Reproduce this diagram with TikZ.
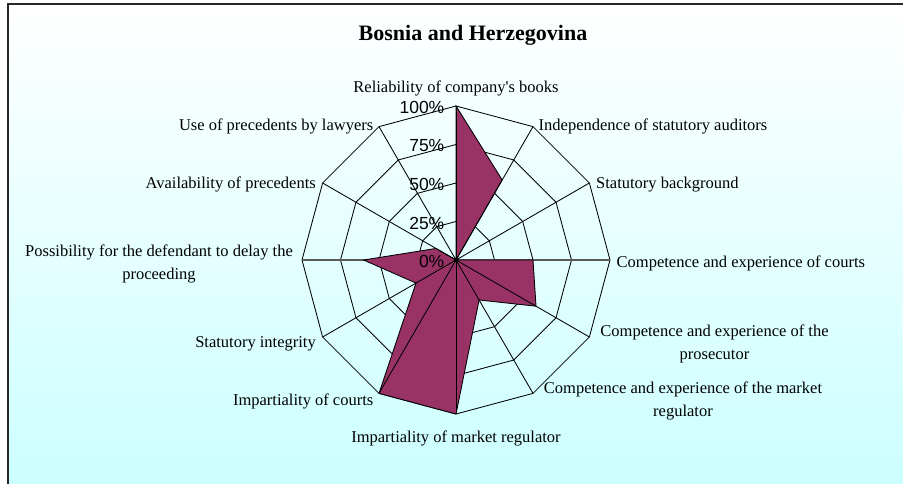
\documentclass[tikz,border=0pt]{standalone}
\usepackage{fontspec}
\setmainfont{Liberation Serif}
\newfontfamily\ticksans{Liberation Sans}
\definecolor{plum}{RGB}{153,51,102}
\definecolor{bgcyan}{RGB}{204,255,255}
\begin{document}
\begin{tikzpicture}[x=1pt,y=-1pt,
  gridline/.style={draw=black, line width=0.85pt},
  axisline/.style={draw=black!65, line width=1.8pt},
  series/.style={draw=black, line width=0.85pt, fill=plum, line join=miter},
  catlabel/.style={inner sep=0pt, font=\fontsize{16.5}{23}\selectfont, align=center},
  ticklabel/.style={inner sep=0pt, anchor=east, font=\ticksans\fontsize{17.5}{20}\selectfont},
  titlelabel/.style={inner sep=0pt, anchor=base, font=\bfseries\fontsize{22}{26}\selectfont}]

% canvas, chart area with gradient and its frame
\useasboundingbox (0,0) rectangle (903,484);
\fill[white] (0,0) rectangle (903,484);
\shade[top color=white, bottom color=bgcyan] (8,4) rectangle (903,484);
\draw[line width=1.6pt, black!85] (8,484) -- (8,4) -- (903,4);

% radar geometry: centre (456,260), full scale radius 154
\coordinate (C) at (456,260);
\foreach \i in {0,...,11}
  \coordinate (v\i) at ({456+154*cos(90-30*\i)},{260-154*sin(90-30*\i)});

% value rings at 25 %, 50 %, 75 %, 100 %
\foreach \f in {0.25,0.5,0.75,1}
  \draw[gridline] plot[samples at={90,60,...,-240}] ({456+154*\f*cos(\x)},{260-154*\f*sin(\x)}) -- cycle;

% horizontal axis line
\draw[axisline] (v9) -- (v3);

% data series
\foreach \v [count=\i from 0] in {1,0.6,0,0.5,0.6,0.3,1,1,0.3,0.6,0.15,0}
  \coordinate (p\i) at ({456+154*\v*cos(90-30*\i)},{260-154*\v*sin(90-30*\i)});
\draw[series] (p0) -- (p1) -- (p2) -- (p3) -- (p4) -- (p5) -- (p6) -- (p7)
  -- (p8) -- (p9) -- (p10) -- (p11) -- cycle;

% category spokes
\foreach \i in {0,1,2,4,5,6,7,8,10,11}
  \draw[gridline] (C) -- (v\i);
\fill[black] (C) circle (2.3);

% value axis labels
\node[ticklabel] (t100) at (444.5,107.5) {100\%};
\node[ticklabel] (t75)  at (444.5,146)   {75\%};
\node[ticklabel] (t50)  at (444.5,184.5) {50\%};
\node[ticklabel] (t25)  at (444.5,223)   {25\%};
\node[ticklabel] (t0)   at (444.5,261.5) {0\%};

% title
\node[titlelabel] (title) at (473,41) {Bosnia and Herzegovina};

% category labels
\node[catlabel, anchor=base]      (c0)  at (456,93)    {Reliability of company\textquotesingle s books};
\node[catlabel, anchor=base west] (c1)  at (538.5,131) {Independence of statutory auditors};
\node[catlabel, anchor=base west] (c2)  at (596,188.5) {Statutory background};
\node[catlabel, anchor=base west] (c3)  at (616.5,267.5) {Competence and experience of courts};
\node[catlabel]                   (c4)  at (714.5,343.5) {Competence and experience of the\\prosecutor};
\node[catlabel]                   (c5)  at (683,401) {Competence and experience of the market\\regulator};
\node[catlabel, anchor=base]      (c6)  at (456,442.5) {Impartiality of market regulator};
\node[catlabel, anchor=base east] (c7)  at (373.5,405) {Impartiality of courts};
\node[catlabel, anchor=base east] (c8)  at (316,347.5) {Statutory integrity};
\node[catlabel]                   (c9)  at (159,264) {Possibility for the defendant to delay the\\proceeding};
\node[catlabel, anchor=base east] (c10) at (316,188.5) {Availability of precedents};
\node[catlabel, anchor=base east] (c11) at (373.5,131) {Use of precedents by lawyers};
\end{tikzpicture}
\end{document}
